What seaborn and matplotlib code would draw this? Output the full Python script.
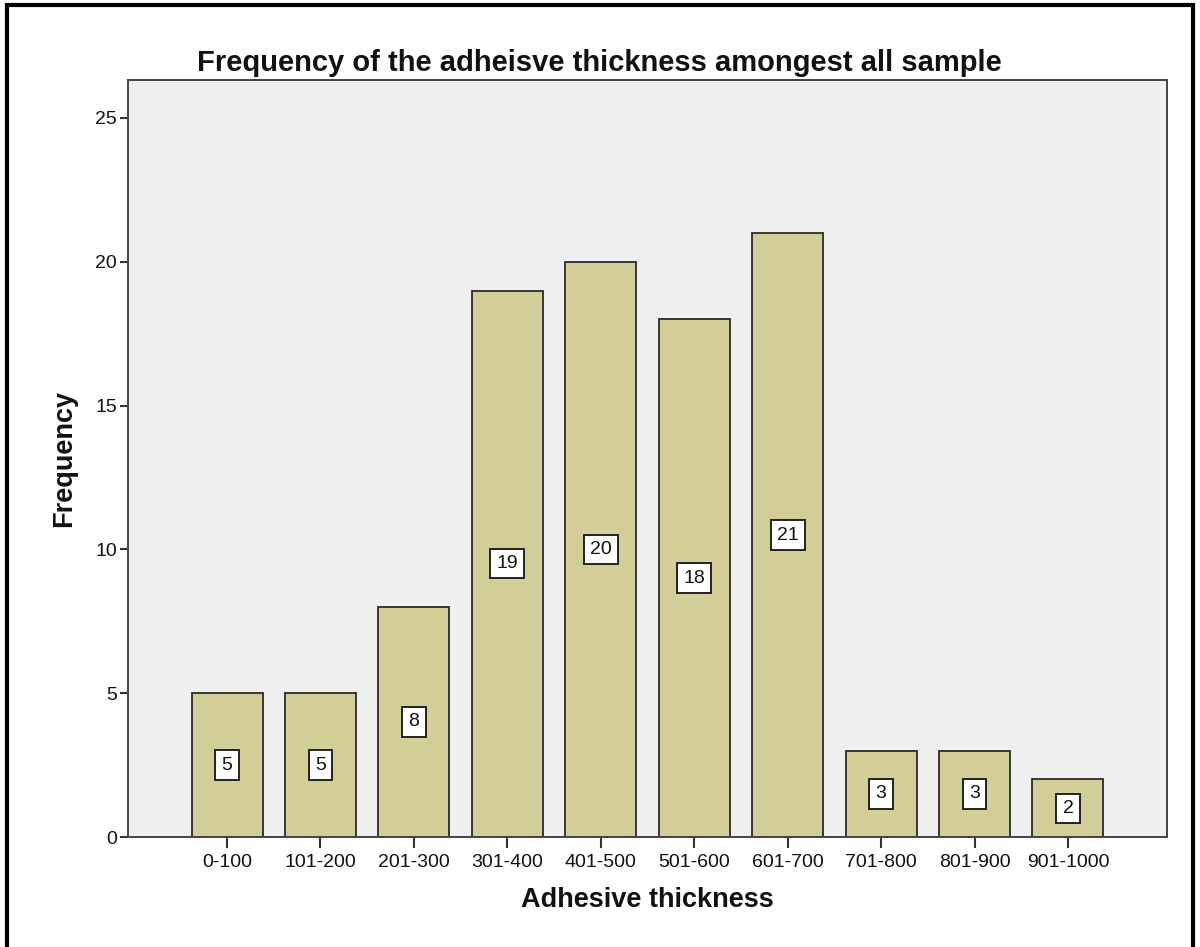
import matplotlib.pyplot as plt
import seaborn as sns
from matplotlib.patches import Rectangle

bins = ["0-100", "101-200", "201-300", "301-400", "401-500",
        "501-600", "601-700", "701-800", "801-900", "901-1000"]
counts = [5, 5, 8, 19, 20, 18, 21, 3, 3, 2]
y_ticks = [0, 5, 10, 15, 20, 25]

sns.set_style("white")
plt.rcParams["font.family"] = ["Liberation Sans", "DejaVu Sans"]

fig = plt.figure(figsize=(12, 9.47), dpi=100)
ax = fig.add_axes([128 / 1200, 1 - 837 / 947, (1167 - 128) / 1200, (837 - 80) / 947])
ax.set_facecolor("#f0f0f0")

sns.barplot(x=bins, y=counts, color="#d3ce97", edgecolor="#2b2b2b",
            linewidth=1.3, width=0.76, saturation=1, ax=ax)

# value labels in white boxes, centred halfway up each bar
for i, c in enumerate(counts):
    ax.text(i, c / 2, str(c), ha="center", va="center", fontsize=14,
            color="#111111",
            bbox=dict(boxstyle="square,pad=0.32", facecolor="white",
                      edgecolor="#222222", linewidth=1.4))

ax.set_xlim(-1.06, 10.06)
ax.set_ylim(0, 26.32)
ax.set_yticks(y_ticks)
ax.tick_params(axis="both", direction="out", width=1.5, bottom=True, left=True,
               color="#333333", labelsize=14, labelcolor="#111111")
ax.tick_params(axis="x", length=8, pad=4)
ax.tick_params(axis="y", length=6, pad=2)
for s in ax.spines.values():
    s.set_color("#444444")
    s.set_linewidth(1.4)

fig.text(0.4992, 1 - 71 / 947,
         "Frequency of the adheisve thickness amongest all sample",
         ha="center", va="baseline", fontsize=21, fontweight="bold", color="#111111")
ax.set_xlabel("Adhesive thickness", fontsize=19.5, fontweight="bold", labelpad=12,
              color="#111111")
ax.set_ylabel("Frequency", fontsize=19.5, fontweight="bold", labelpad=13,
              color="#111111")

# outer frame around the whole chart
fig.patches.append(Rectangle((7 / 1200, -0.01), (1193 - 7) / 1200, 1 - 5 / 947 + 0.01,
                             transform=fig.transFigure, fill=False,
                             edgecolor="black", linewidth=3))

fig.savefig("out.png", dpi=100)
